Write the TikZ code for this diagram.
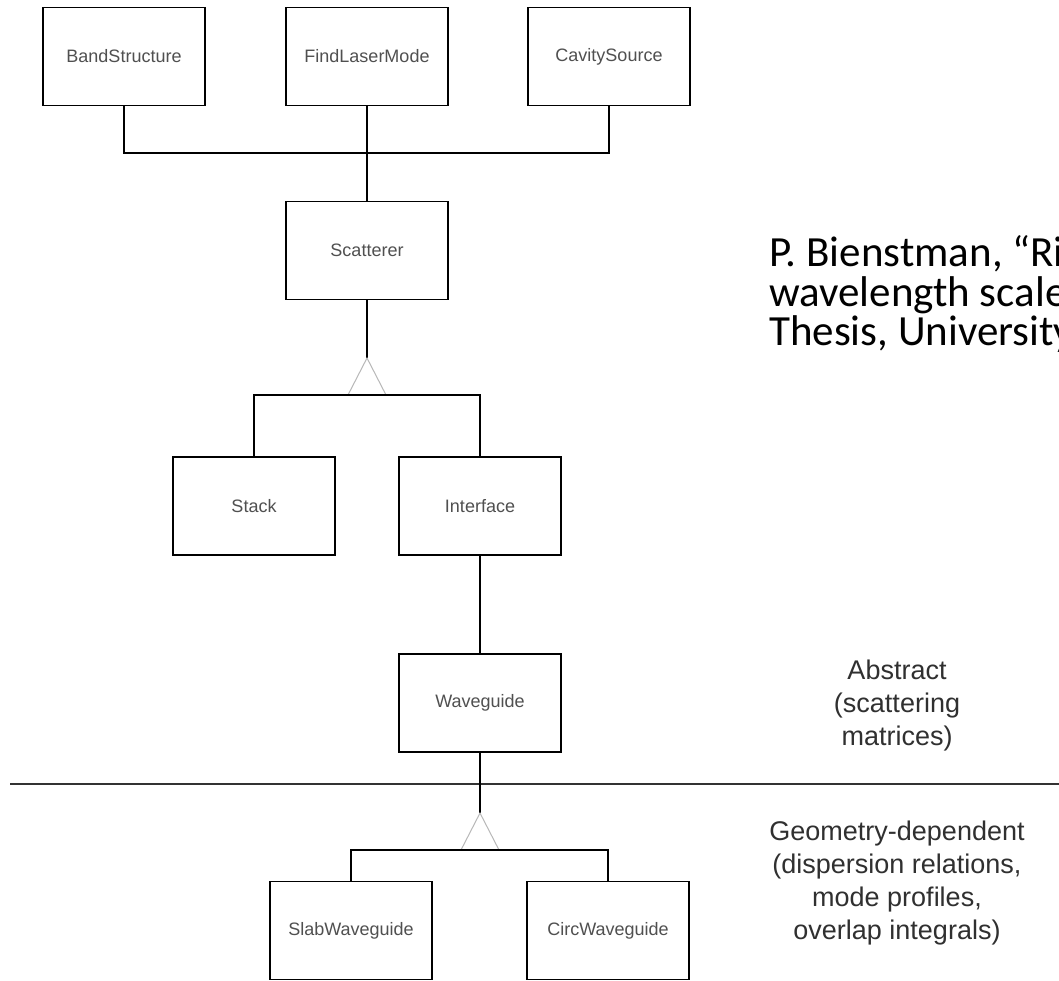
\documentclass[tikz,border=0pt]{standalone}
\usepackage{fontspec}
\newfontfamily\lsans{Liberation Sans}
\newfontfamily\calib{Carlito}
\definecolor{boxtext}{HTML}{505050}
\definecolor{sidetext}{HTML}{303030}
\definecolor{trigray}{HTML}{B8B8B8}
\tikzset{
  classbox/.style={draw=black, line width=1.8pt, minimum width=162pt, minimum height=98pt, inner sep=0pt,
    font=\lsans\fontsize{18}{22}\selectfont, text=boxtext},
  conn/.style={draw=black, line width=1.8pt},
  inherit/.style={draw=trigray, line width=1pt},
  sidelabel/.style={anchor=base, inner sep=0pt, font=\lsans\fontsize{27}{33}\selectfont, text=sidetext},
  citelabel/.style={anchor=base west, inner sep=0pt, font=\calib\fontsize{43}{39}\selectfont, text=black}
}
\begin{document}
\begin{tikzpicture}[x=1pt,y=-1pt]
\clip (0,0) rectangle (1059,981);
\fill[white] (0,0) rectangle (1059,981);

% boxes
\node[classbox] (bs) at (124,56.5) {BandStructure};
\node[classbox] (fl) at (367,56.5) {FindLaserMode};
\node[classbox] (cs) at (609,56.5) {CavitySource};
\node[classbox] (sc) at (367,250.5) {Scatterer};
\node[classbox] (st) at (254,506) {Stack};
\node[classbox] (if) at (480,506) {Interface};
\node[classbox] (wg) at (480,703) {Waveguide};
\node[classbox] (sw) at (351,930.5) {SlabWaveguide};
\node[classbox] (cw) at (608,930.5) {CircWaveguide};

% top bus
\draw[conn] (bs.south) -- (bs.south |- 0,153) -- (cs.south |- 0,153) -- (cs.south);
\draw[conn] (fl.south) -- (sc.north);

% scatterer inheritance
\coordinate (apex1) at (367,358);
\coordinate (tl1) at (348,395);
\coordinate (tr1) at (386,395);
\draw[conn] (sc.south) -- (apex1);
\draw[inherit] (tl1) -- (apex1) -- (tr1);
\draw[conn] (st.north) -- (st.north |- 0,395) -- (if.north |- 0,395) -- (if.north);

\draw[conn] (if.south) -- (wg.north);

% separator
\coordinate (sepL) at (10,784);
\coordinate (sepR) at (1059,784);
\draw[draw=black!80, line width=1.6pt] (sepL) -- (sepR);

% waveguide inheritance
\coordinate (apex2) at (480,813);
\coordinate (tl2) at (461,850);
\coordinate (tr2) at (499,850);
\draw[conn] (wg.south) -- (apex2);
\draw[inherit] (tl2) -- (apex2) -- (tr2);
\draw[conn] (sw.north) -- (sw.north |- 0,850) -- (cw.north |- 0,850) -- (cw.north);

% side labels
\node[sidelabel] (ab1) at (897,679) {Abstract};
\node[sidelabel] (ab2) at (897,712) {(scattering};
\node[sidelabel] (ab3) at (897,745) {matrices)};
\node[sidelabel] (gd1) at (897,840) {Geometry-dependent};
\node[sidelabel] (gd2) at (897,873) {(dispersion relations,};
\node[sidelabel] (gd3) at (897,906) {mode profiles,};
\node[sidelabel] (gd4) at (897,939) {overlap integrals)};

% citation (clipped at right edge, as in the reference)
\node[citelabel] (ci1) at (769,267) {P. Bienstman, “Rig};
\node[citelabel] (ci2) at (769,306) {wavelength scale};
\node[citelabel] (ci3) at (769,345) {Thesis, University};
\end{tikzpicture}
\end{document}
